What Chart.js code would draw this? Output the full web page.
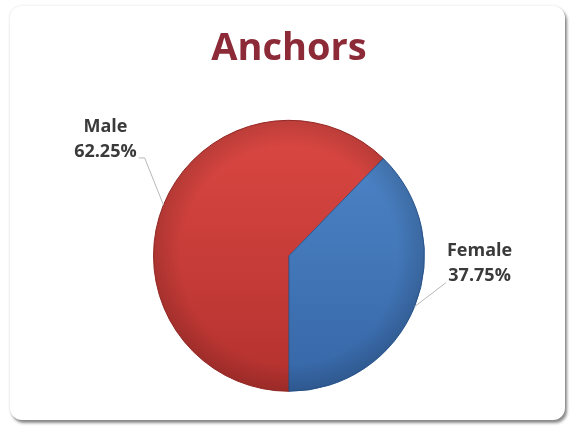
<!DOCTYPE html>
<html>
<head>
<meta charset="utf-8">
<script src="https://cdn.jsdelivr.net/npm/chart.js@4/dist/chart.umd.min.js"></script>
<style>
    body { margin: 0; background: #fff; }
    .frame {
        position: absolute;
        left: 10px;
        top: 6px;
        width: 555px;
        height: 414px;
        border-radius: 12px;
        background: #fff;
        box-shadow: 2px 3px 3px rgba(0, 0, 0, 0.45), 0 0 3px rgba(0, 0, 0, 0.12);
    }
    #anchorsChart { position: absolute; left: 0; top: 0; }
</style>
</head>
<body>
<div class="frame"></div>
<canvas id="anchorsChart" width="572" height="430"></canvas>
<script>
const genders = ['Male', 'Female'];
const shares = [62.25, 37.75];

const sliceTop = ['#dc4843', '#4f88cb'];
const sliceBottom = ['#b3312e', '#3666a6'];
const sliceEdge = ['#9c2b28', '#2d5a95'];

// label block centre, relative to the point where the slice's mid-angle meets the rim
const labelShift = [{ x: -58, y: -66 }, { x: 65, y: -43 }];
const leaderTail = [6, 0];

function sliceFill(ctx) {
    const i = ctx.dataIndex;
    const area = ctx.chart.chartArea;
    if (!area) return sliceTop[i];
    const g = ctx.chart.ctx.createLinearGradient(0, area.top, 0, area.bottom);
    g.addColorStop(0, sliceTop[i]);
    g.addColorStop(1, sliceBottom[i]);
    return g;
}

const pieLabels = {
    id: 'pieLabels',
    afterDatasetsDraw(chart) {
        const c = chart.ctx;
        const arcs = chart.getDatasetMeta(0).data;
        c.save();

        // darker rim for a little depth
        const a0 = arcs[0].getProps(['x', 'y', 'outerRadius'], true);
        const rim = c.createRadialGradient(a0.x, a0.y, a0.outerRadius * 0.8, a0.x, a0.y, a0.outerRadius);
        rim.addColorStop(0, 'rgba(0,0,0,0)');
        rim.addColorStop(1, 'rgba(0,0,0,0.14)');
        c.fillStyle = rim;
        c.beginPath();
        c.arc(a0.x, a0.y, a0.outerRadius, 0, Math.PI * 2);
        c.fill();

        c.font = 'bold 18px "Open Sans"';
        c.textAlign = 'center';
        c.textBaseline = 'middle';
        arcs.forEach((arc, i) => {
            const p = arc.getProps(['x', 'y', 'startAngle', 'endAngle', 'outerRadius'], true);
            const mid = (p.startAngle + p.endAngle) / 2;
            const ex = p.x + Math.cos(mid) * p.outerRadius;
            const ey = p.y + Math.sin(mid) * p.outerRadius;
            const cx = ex + labelShift[i].x;
            const cy = ey + labelShift[i].y;

            const lines = [genders[i], shares[i].toFixed(2) + '%'];
            const half = Math.max(...lines.map(t => c.measureText(t).width)) / 2;
            const onLeft = cx < p.x;
            const ax = onLeft ? cx + half + 2 : cx - half - 1;
            const ay = cy + 19;

            c.strokeStyle = '#b8b8b8';
            c.lineWidth = 1;
            c.beginPath();
            c.moveTo(ex, ey);
            c.lineTo(ax + (onLeft ? leaderTail[i] : -leaderTail[i]), ay);
            c.lineTo(ax, ay);
            c.stroke();

            c.fillStyle = '#3a3a3a';
            c.fillText(lines[0], cx, cy - 12.5);
            c.fillText(lines[1], cx, cy + 12.5);
        });
        c.restore();
    }
};

new Chart(document.getElementById('anchorsChart'), {
    type: 'pie',
    data: {
        labels: genders,
        datasets: [{
            data: shares,
            backgroundColor: sliceFill,
            borderColor: sliceEdge,
            borderWidth: 1
        }]
    },
    options: {
        responsive: false,
        animation: false,
        rotation: 180,
        layout: {
            padding: { top: 20, left: 153, right: 147, bottom: 38 }
        },
        plugins: {
            legend: { display: false },
            tooltip: { enabled: false },
            title: {
                display: true,
                text: 'Anchors',
                color: '#8c2a37',
                font: { family: 'Open Sans', size: 38, weight: 'bold' },
                padding: { top: 6, bottom: 48 }
            }
        }
    },
    plugins: [pieLabels]
});
</script>
</body>
</html>
